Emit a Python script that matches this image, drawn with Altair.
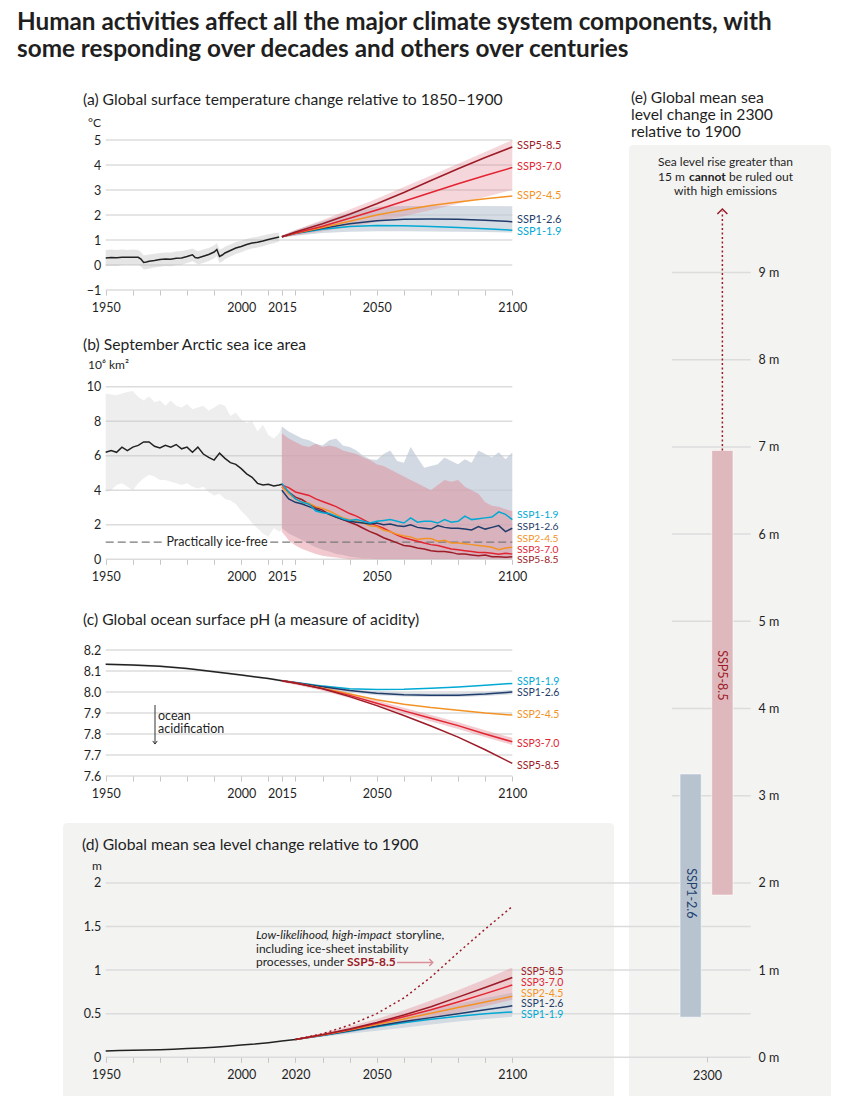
import altair as alt
import pandas as pd

W, H = 850, 1096
FONT = "Lato"
INK = "#1f1f1f"
GRID = "#dcdcdc"
BOX = "#f3f3f2"

SCEN = ["SSP1-1.9", "SSP1-2.6", "SSP2-4.5", "SSP3-7.0", "SSP5-8.5"]
SCEN_COL = ["#00a9d4", "#1f3c6a", "#f39325", "#e32431", "#9c1b27"]
COL = dict(zip(SCEN, SCEN_COL))

# ---------------- (a) global surface temperature ----------------
a_hist_year = [1950, 1952, 1954, 1956, 1958, 1960, 1962, 1963, 1964, 1965, 1966, 1968, 1970,
               1972, 1974, 1976, 1978, 1980, 1982, 1983, 1984, 1986, 1988, 1990, 1991, 1992,
               1993, 1994, 1996, 1998, 2000, 2002, 2004, 2006, 2008, 2010, 2012, 2014]
a_hist = [0.28, 0.30, 0.29, 0.31, 0.31, 0.31, 0.31, 0.24, 0.10, 0.12, 0.15, 0.18, 0.22,
          0.24, 0.23, 0.27, 0.28, 0.34, 0.41, 0.30, 0.28, 0.35, 0.42, 0.52, 0.62, 0.34,
          0.40, 0.48, 0.58, 0.68, 0.74, 0.82, 0.88, 0.91, 0.96, 1.02, 1.07, 1.12]
a_hist_hi = [0.60, 0.62, 0.60, 0.62, 0.60, 0.62, 0.60, 0.52, 0.38, 0.40, 0.42, 0.45, 0.48,
             0.50, 0.50, 0.54, 0.56, 0.60, 0.66, 0.60, 0.55, 0.62, 0.68, 0.78, 0.88, 0.62,
             0.66, 0.73, 0.82, 0.92, 0.97, 1.04, 1.10, 1.13, 1.18, 1.23, 1.27, 1.30]
a_hist_lo = [-0.05, -0.03, -0.04, 0.00, 0.01, 0.00, 0.01, -0.06, -0.18, -0.17, -0.14, -0.10, -0.07,
             -0.04, -0.05, 0.00, 0.01, 0.08, 0.15, 0.10, 0.02, 0.08, 0.16, 0.26, 0.36, 0.08,
             0.14, 0.23, 0.34, 0.44, 0.51, 0.60, 0.66, 0.70, 0.75, 0.82, 0.87, 0.94]
a_fut_year = [2015, 2020, 2030, 2040, 2050, 2060, 2070, 2080, 2090, 2100]
a_fut = {
    "SSP1-1.9": [1.13, 1.26, 1.43, 1.54, 1.58, 1.57, 1.54, 1.50, 1.45, 1.39],
    "SSP1-2.6": [1.13, 1.27, 1.47, 1.65, 1.77, 1.83, 1.84, 1.83, 1.79, 1.73],
    "SSP2-4.5": [1.13, 1.27, 1.50, 1.75, 2.00, 2.20, 2.38, 2.52, 2.65, 2.76],
    "SSP3-7.0": [1.13, 1.28, 1.55, 1.87, 2.20, 2.55, 2.90, 3.25, 3.58, 3.90],
    "SSP5-8.5": [1.13, 1.32, 1.65, 2.03, 2.45, 2.90, 3.38, 3.85, 4.30, 4.72],
}
a_b126_lo = [1.10, 1.17, 1.28, 1.33, 1.35, 1.35, 1.34, 1.33, 1.32, 1.30]
a_b126_hi = [1.18, 1.40, 1.75, 2.10, 2.33, 2.36, 2.36, 2.36, 2.36, 2.35]
a_b370_lo = [1.10, 1.18, 1.35, 1.52, 1.72, 1.95, 2.20, 2.45, 2.72, 3.00]
a_b370_hi = [1.18, 1.40, 1.80, 2.22, 2.65, 3.12, 3.58, 4.05, 4.52, 5.00]

# ---------------- (b) September Arctic sea ice ----------------
b_hist_year = list(range(1950, 2015, 2))
b_hist = [6.2, 6.3, 6.2, 6.5, 6.3, 6.5, 6.6, 6.8, 6.8, 6.55, 6.45, 6.6, 6.5, 6.65, 6.4, 6.5,
          6.2, 6.5, 6.1, 5.9, 5.75, 6.15, 5.85, 5.6, 5.5, 5.25, 4.95, 4.75, 4.4, 4.3, 4.35, 4.25, 4.3]
b_hist_hi = [9.6, 9.55, 9.5, 9.6, 9.7, 9.75, 9.4, 9.2, 9.45, 9.1, 9.2, 8.9, 9.2, 8.9, 8.8, 9.0,
             8.7, 8.8, 8.9, 8.6, 8.8, 9.0, 8.9, 8.3, 8.5, 8.1, 7.9, 8.0, 7.4, 7.8, 7.2, 7.0, 7.3]
b_hist_lo = [3.9, 4.0, 4.3, 4.4, 4.2, 4.0, 4.4, 4.7, 4.9, 4.8, 4.6, 4.6, 4.5, 4.4, 4.3, 4.4,
             4.2, 4.1, 4.2, 3.9, 3.7, 3.8, 3.5, 3.4, 3.2, 2.8, 2.5, 2.1, 1.8, 1.5, 1.3, 1.8, 1.6]
b_fut_year = [2015 + 2.5 * i for i in range(35)]
b_fut = {
    "SSP1-1.9": [4.4, 3.9, 3.5, 3.3, 3.2, 2.8, 2.7, 2.65, 2.5, 2.35, 2.25, 2.3, 2.2, 2.1, 2.2,
                 2.25, 2.3, 2.2, 2.1, 2.4, 2.15, 2.2, 2.2, 2.1, 2.3, 2.15, 2.2, 2.5, 2.3, 2.35,
                 2.4, 2.45, 2.75, 2.6, 2.3],
    "SSP1-2.6": [4.0, 3.5, 3.3, 3.2, 3.05, 2.9, 2.75, 2.6, 2.45, 2.3, 2.2, 2.15, 2.1, 2.05, 2.1,
                 2.0, 2.05, 1.95, 1.9, 2.0, 1.85, 1.8, 1.75, 1.95, 1.85, 1.8, 1.8, 1.75, 1.7, 1.9,
                 1.75, 1.85, 1.95, 1.6, 1.8],
    "SSP2-4.5": [4.2, 3.8, 3.5, 3.3, 3.25, 3.05, 2.95, 2.8, 2.6, 2.4, 2.3, 2.2, 2.1, 1.95, 1.9,
                 1.7, 1.6, 1.45, 1.35, 1.3, 1.15, 1.2, 1.2, 1.05, 1.1, 0.95, 0.95, 0.9, 0.85, 0.8,
                 0.75, 0.7, 0.55, 0.65, 0.7],
    "SSP3-7.0": [4.3, 4.15, 3.9, 3.8, 3.7, 3.5, 3.35, 3.2, 3.05, 2.85, 2.65, 2.5, 2.3, 2.1, 1.95,
                 1.8, 1.6, 1.4, 1.25, 1.15, 1.05, 0.95, 0.85, 0.8, 0.7, 0.6, 0.55, 0.5, 0.45, 0.4,
                 0.4, 0.35, 0.3, 0.35, 0.3],
    "SSP5-8.5": [4.2, 3.9, 3.6, 3.45, 3.2, 3.0, 2.85, 2.6, 2.45, 2.3, 2.15, 2.0, 1.8, 1.6, 1.45,
                 1.25, 1.1, 0.95, 0.8, 0.75, 0.65, 0.6, 0.5, 0.45, 0.45, 0.4, 0.3, 0.3, 0.25, 0.2,
                 0.25, 0.15, 0.15, 0.12, 0.15],
}
b_b126_hi = [7.7, 7.4, 7.2, 7.0, 6.9, 6.7, 6.6, 6.9, 7.0, 6.6, 6.5, 6.3, 6.0, 5.8, 5.75,
             6.1, 6.3, 5.7, 5.6, 6.5, 5.9, 5.3, 5.4, 5.5, 5.9, 5.7, 5.5, 5.8, 5.6, 6.3,
             6.1, 5.9, 6.2, 5.8, 6.2]
b_b126_lo = [1.8, 1.5, 1.3, 1.1, 0.9, 0.7, 0.55, 0.45, 0.3, 0.25, 0.15, 0.1, 0.05, 0.05, 0.0,
             0.0, 0.0, 0.0, 0.0, 0.0, 0.0, 0.0, 0.0, 0.0, 0.0, 0.0, 0.0, 0.0, 0.0, 0.0,
             0.0, 0.0, 0.0, 0.0, 0.0]
b_b370_hi = [7.3, 7.0, 6.8, 6.6, 6.5, 6.7, 6.5, 6.6, 6.5, 6.3, 6.2, 6.1, 5.9, 5.75, 5.5,
             5.4, 5.2, 5.0, 4.8, 4.6, 4.4, 4.2, 4.0, 4.3, 4.6, 4.5, 4.6, 4.2, 4.0, 3.8,
             3.3, 3.1, 3.05, 2.9, 2.8]
b_b370_lo = [1.6, 1.1, 0.8, 0.6, 0.45, 0.3, 0.2, 0.15, 0.1, 0.05, 0.0, 0.0, 0.0, 0.0, 0.0,
             0.0, 0.0, 0.0, 0.0, 0.0, 0.0, 0.0, 0.0, 0.0, 0.0, 0.0, 0.0, 0.0, 0.0, 0.0,
             0.0, 0.0, 0.0, 0.0, 0.0]
b_icefree = 1.0

# ---------------- (c) ocean surface pH ----------------
c_hist_year = [1950, 1960, 1970, 1980, 1990, 2000, 2010, 2015]
c_hist = [8.132, 8.128, 8.123, 8.112, 8.097, 8.081, 8.064, 8.054]
c_hist_lo = [8.127, 8.123, 8.118, 8.107, 8.092, 8.076, 8.059, 8.049]
c_hist_hi = [8.137, 8.133, 8.128, 8.117, 8.102, 8.086, 8.069, 8.059]
c_fut_year = [2015, 2020, 2030, 2040, 2050, 2060, 2070, 2080, 2090, 2100]
c_fut = {
    "SSP1-1.9": [8.054, 8.045, 8.028, 8.015, 8.012, 8.013, 8.018, 8.024, 8.032, 8.041],
    "SSP1-2.6": [8.054, 8.044, 8.025, 8.007, 7.994, 7.987, 7.985, 7.985, 7.991, 8.000],
    "SSP2-4.5": [8.054, 8.043, 8.018, 7.990, 7.963, 7.942, 7.926, 7.913, 7.900, 7.890],
    "SSP3-7.0": [8.054, 8.043, 8.016, 7.984, 7.946, 7.910, 7.875, 7.840, 7.800, 7.763],
    "SSP5-8.5": [8.054, 8.043, 8.015, 7.978, 7.935, 7.888, 7.838, 7.785, 7.725, 7.660],
}
c_b126_lo = [8.048, 8.036, 8.016, 7.998, 7.985, 7.978, 7.976, 7.976, 7.981, 7.989]
c_b126_hi = [8.058, 8.050, 8.033, 8.016, 8.003, 7.996, 7.994, 7.995, 8.000, 8.010]
c_b370_lo = [8.048, 8.035, 8.006, 7.972, 7.933, 7.896, 7.860, 7.824, 7.785, 7.748]
c_b370_hi = [8.058, 8.050, 8.026, 7.996, 7.960, 7.925, 7.890, 7.856, 7.818, 7.782]

# ---------------- (d) global mean sea level ----------------
d_hist_year = [1950, 1955, 1960, 1965, 1970, 1975, 1980, 1985, 1990, 1995, 2000, 2005, 2010, 2015, 2020]
d_hist = [0.072, 0.077, 0.080, 0.084, 0.088, 0.093, 0.100, 0.107, 0.116, 0.127, 0.140, 0.152,
          0.168, 0.186, 0.205]
d_fut_year = [2020, 2030, 2040, 2050, 2060, 2070, 2080, 2090, 2100]
d_fut = {
    "SSP1-1.9": [0.205, 0.250, 0.300, 0.350, 0.395, 0.435, 0.470, 0.500, 0.520],
    "SSP1-2.6": [0.205, 0.253, 0.305, 0.360, 0.410, 0.455, 0.500, 0.545, 0.590],
    "SSP2-4.5": [0.205, 0.255, 0.312, 0.375, 0.440, 0.505, 0.570, 0.635, 0.700],
    "SSP3-7.0": [0.205, 0.258, 0.320, 0.390, 0.465, 0.545, 0.635, 0.730, 0.830],
    "SSP5-8.5": [0.205, 0.260, 0.325, 0.400, 0.485, 0.580, 0.690, 0.800, 0.915],
}
d_storyline = [0.205, 0.270, 0.370, 0.500, 0.680, 0.920, 1.200, 1.470, 1.730]
d_b126_lo = [0.200, 0.235, 0.270, 0.305, 0.340, 0.375, 0.410, 0.440, 0.465]
d_b126_hi = [0.210, 0.270, 0.335, 0.405, 0.475, 0.545, 0.615, 0.680, 0.740]
d_b370_lo = [0.200, 0.240, 0.285, 0.335, 0.390, 0.450, 0.515, 0.585, 0.660]
d_b370_hi = [0.210, 0.280, 0.355, 0.440, 0.540, 0.650, 0.770, 0.895, 1.030]

# ---------------- (e) sea level in 2300 ----------------
e_scen = ["SSP1-2.6", "SSP5-8.5"]
e_lo = [0.46, 1.86]
e_hi = [3.25, 6.96]
e_beyond = 9.70   # dotted arrow: greater than 15 m cannot be ruled out

# ---------------- label anchors (data units) ----------------
a_label_at = [1.31, 1.80, 2.76, 3.91, 4.76]
b_label_at = [2.55, 1.85, 1.17, 0.55, -0.05]
c_label_at = [8.046, 7.996, 7.890, 7.752, 7.648]
d_label_at = [0.490, 0.607, 0.726, 0.855, 0.980]

# ---------------- layout (pixels) ----------------
XL, XR = 105.7, 512.3
PANEL = {
    "a": ([-1, 5], [290, 140]),
    "b": ([0, 10], [559.3, 386.7]),
    "c": ([7.6, 8.2], [776, 650]),
    "d": ([0, 2], [1057.3, 882.9]),
    "e": ([0, 9], [1057.3, 272.5]),
}
E_BAND = [680, 733]


def xq(field="year", axis=None):
    return alt.X(f"{field}:Q", axis=axis,
                 scale=alt.Scale(domain=[1950, 2100], range=[XL, XR], zero=False, nice=False))


def yq(p, field, axis=None):
    dom, rng = PANEL[p]
    return alt.Y(f"{field}:Q", axis=axis,
                 scale=alt.Scale(domain=dom, range=rng, zero=False, nice=False))


def xe(axis=None):
    return alt.X("scen:N", axis=axis,
                 scale=alt.Scale(type="band", domain=e_scen, range=E_BAND,
                                 paddingInner=0.33, paddingOuter=0))


def line(p, years, vals, color, width=1.5, dash=None):
    df = pd.DataFrame({"year": years, "v": vals})
    kw = dict(color=color, strokeWidth=width, strokeCap="butt")
    if dash:
        kw["strokeDash"] = dash
    return alt.Chart(df).mark_line(**kw).encode(x=xq(), y=yq(p, "v"))


def band(p, years, lo, hi, color, opacity):
    df = pd.DataFrame({"year": years, "lo": lo, "hi": hi})
    return alt.Chart(df).mark_area(color=color, opacity=opacity).encode(
        x=xq(), y=yq(p, "lo"), y2=alt.Y2("hi"))


def grid(p, vals, x0=XL, x1=XR, axis=None):
    df = pd.DataFrame({"v": vals})
    return alt.Chart(df).mark_rule(color=GRID, strokeWidth=1.5).encode(
        y=yq(p, "v", axis=axis), x=alt.value(x0), x2=alt.value(x1))


def yaxis_left(vals, fmt=None):
    kw = dict(orient="left", offset=-XL, values=vals, grid=False, domain=False, ticks=False,
              labelPadding=5, labelFontSize=12.5, labelColor=INK, labelFont=FONT, title=None,
              labelOverlap=False, zindex=1)
    if fmt:
        kw["format"] = fmt
    return alt.Axis(**kw)


def x_axis_layer(base_px, tick_years, label_years):
    expr = "indexof(" + str(label_years) + ", datum.value) >= 0 ? datum.label : ''"
    ax = alt.Axis(orient="bottom", offset=base_px - H, values=tick_years, format="d",
                  labelExpr=expr, grid=False, domain=False, ticks=True, tickSize=5,
                  tickColor="#c6c6c6", tickWidth=1, labelPadding=6, labelFontSize=12.5,
                  labelColor=INK, labelFont=FONT, labelFlush=False, labelOverlap=False,
                  title=None, zindex=1)
    df = pd.DataFrame({"year": tick_years})
    return alt.Chart(df).mark_point(opacity=0).encode(x=xq(axis=ax), y=alt.value(0))


def text_px(s, x, y, size=12.5, color=INK, weight="normal", style="normal",
            align="left", baseline="middle"):
    df = pd.DataFrame({"t": [s]})
    return alt.Chart(df).mark_text(font=FONT, fontSize=size, color=color, fontWeight=weight,
                                   fontStyle=style, align=align, baseline=baseline).encode(
        x=alt.value(x), y=alt.value(y), text="t:N")


def ssp_labels(p, label_at, x_px=517, size=11):
    df = pd.DataFrame({"s": SCEN, "v": label_at})
    return alt.Chart(df).mark_text(font=FONT, fontSize=size, align="left", baseline="middle").encode(
        x=alt.value(x_px), y=yq(p, "v"), text="s:N",
        color=alt.Color("s:N", scale=alt.Scale(domain=SCEN, range=SCEN_COL), legend=None))


def rect_px(x0, x1, y0, y1, color):
    df = pd.DataFrame({"k": [0]})
    return alt.Chart(df).mark_rect(color=color, cornerRadius=4).encode(
        x=alt.value(x0), x2=alt.value(x1), y=alt.value(y0), y2=alt.value(y1))


TICKS_10 = list(range(1950, 2101, 10))
TICKS_ABC = sorted(TICKS_10 + [2015])
GRAYBLUE, PINK = "#bfc9d6", "#e07f8c"

layers = []

# background boxes for (d) and (e)
layers.append(rect_px(63, 614, 823, 1100, BOX))
layers.append(rect_px(629, 831, 145, 1100, BOX))

# main title
layers.append(text_px("Human activities affect all the major climate system components, with",
                      17, 30, size=24.3, weight="bold", baseline="alphabetic"))
layers.append(text_px("some responding over decades and others over centuries",
                      17, 57, size=24.3, weight="bold", baseline="alphabetic"))

# ---------- panel (a) ----------
layers.append(grid("a", [-1, 0, 1, 2, 3, 4, 5], axis=yaxis_left([-1, 0, 1, 2, 3, 4, 5])))
layers.append(band("a", a_hist_year, a_hist_lo, a_hist_hi, "#b5b5b5", 0.35))
layers.append(band("a", a_fut_year, a_b126_lo, a_b126_hi, GRAYBLUE, 0.65))
layers.append(band("a", a_fut_year, a_b370_lo, a_b370_hi, PINK, 0.32))
layers.append(line("a", a_hist_year, a_hist, "#222222"))
for s in SCEN:
    layers.append(line("a", a_fut_year, a_fut[s], COL[s]))
layers.append(ssp_labels("a", a_label_at))
layers.append(x_axis_layer(290, TICKS_ABC, [1950, 2000, 2015, 2050, 2100]))
layers.append(text_px("(a) Global surface temperature change relative to 1850–1900", 83, 100, size=15.7))
layers.append(text_px("°C", 88, 123, size=12))

# ---------- panel (b) ----------
layers.append(grid("b", [0, 2, 4, 6, 8, 10], axis=yaxis_left([0, 2, 4, 6, 8, 10])))
layers.append(band("b", b_hist_year + [2015], b_hist_lo + [1.7], b_hist_hi + [7.7], "#c8c8c8", 0.3))
layers.append(band("b", b_fut_year, b_b126_lo, b_b126_hi, GRAYBLUE, 0.7))
layers.append(band("b", b_fut_year, b_b370_lo, b_b370_hi, PINK, 0.42))
ice_df = pd.DataFrame({"seg": [0, 0, 1, 1], "year": [1950, 1971.3, 2010.7, 2100],
                       "v": [b_icefree] * 4})
layers.append(alt.Chart(ice_df).mark_line(color="#7a7a7a", strokeWidth=1.3, strokeDash=[8, 4]).encode(
    x=xq(), y=yq("b", "v"), detail="seg:N"))
layers.append(alt.Chart(pd.DataFrame({"t": ["Practically ice-free"], "v": [b_icefree]})).mark_text(
    font=FONT, fontSize=12.5, color=INK, align="center", baseline="middle").encode(
    x=alt.value(217), y=yq("b", "v"), text="t:N"))
layers.append(line("b", b_hist_year + [2015], b_hist + [4.35], "#222222"))
for s in ["SSP5-8.5", "SSP3-7.0", "SSP2-4.5", "SSP1-2.6", "SSP1-1.9"]:
    layers.append(line("b", b_fut_year, b_fut[s], COL[s]))
layers.append(ssp_labels("b", b_label_at, size=10.3))
layers.append(x_axis_layer(559.3, TICKS_ABC, [1950, 2000, 2015, 2050, 2100]))
layers.append(text_px("(b) September Arctic sea ice area", 83, 345, size=15.7))
layers.append(text_px("10⁶ km²", 88, 365, size=12))

# ---------- panel (c) ----------
c_grid = [7.6, 7.7, 7.8, 7.9, 8.0, 8.1, 8.2]
layers.append(grid("c", c_grid, axis=yaxis_left(c_grid, fmt=".1f")))
layers.append(band("c", c_hist_year, c_hist_lo, c_hist_hi, "#aaaaaa", 0.35))
layers.append(band("c", c_fut_year, c_b126_lo, c_b126_hi, GRAYBLUE, 0.65))
layers.append(band("c", c_fut_year, c_b370_lo, c_b370_hi, PINK, 0.4))
layers.append(line("c", c_hist_year, c_hist, "#222222"))
for s in SCEN:
    layers.append(line("c", c_fut_year, c_fut[s], COL[s]))
layers.append(ssp_labels("c", c_label_at, size=10.5))
layers.append(x_axis_layer(776, TICKS_ABC, [1950, 2000, 2015, 2050, 2100]))
layers.append(text_px("(c) Global ocean surface pH (a measure of acidity)", 83, 620, size=15.7))
layers.append(alt.Chart(pd.DataFrame({"k": [0]})).mark_rule(color="#333333", strokeWidth=1).encode(
    x=alt.value(155), y=alt.value(705), y2=alt.value(744)))
layers.append(alt.Chart(pd.DataFrame({"k": [0]})).mark_point(
    shape="M -1 -0.7 L 0 0.7 L 1 -0.7", filled=False, color="#333333", size=20, strokeWidth=1, opacity=1).encode(
    x=alt.value(155), y=alt.value(742.5)))
layers.append(text_px("ocean", 158, 716, size=12.5))
layers.append(text_px("acidification", 158, 729, size=12.5))

# ---------- panel (d) ----------
d_grid = [0, 0.5, 1, 1.5, 2]
layers.append(grid("d", d_grid, x0=XL, x1=750.7, axis=yaxis_left(d_grid, fmt="~g")))
layers.append(grid("e", [3, 4, 5, 6, 7, 8, 9], x0=672, x1=750.7,
                   axis=alt.Axis(orient="right", offset=751 - W, values=list(range(10)),
                                 labelExpr="datum.value + ' m'", grid=False, domain=False,
                                 ticks=False, labelPadding=7, labelFontSize=12.5, labelColor=INK,
                                 labelFont=FONT, title=None, labelOverlap=False, zindex=1)))
layers.append(band("d", d_fut_year, d_b126_lo, d_b126_hi, GRAYBLUE, 0.6))
layers.append(band("d", d_fut_year, d_b370_lo, d_b370_hi, PINK, 0.35))
layers.append(line("d", d_hist_year, d_hist, "#222222"))
for s in SCEN:
    layers.append(line("d", d_fut_year, d_fut[s], COL[s]))
layers.append(line("d", d_fut_year, d_storyline, COL["SSP5-8.5"], width=1.5, dash=[2, 3]))
layers.append(ssp_labels("d", d_label_at, x_px=521, size=10.5))
layers.append(x_axis_layer(1057.3, TICKS_10, [1950, 2000, 2020, 2050, 2100]))
layers.append(text_px("(d) Global mean sea level change relative to 1900", 82, 845, size=15.7))
layers.append(text_px("m", 92, 866, size=12))
# storyline annotation
layers.append(text_px("Low-likelihood", 256, 935, size=12, style="italic"))
layers.append(text_px(",", 326, 935, size=12))
layers.append(text_px("high-impact", 332, 935, size=12, style="italic"))
layers.append(text_px("storyline,", 396, 935, size=12))
layers.append(text_px("including ice-sheet instability", 256, 948.5, size=12))
layers.append(text_px("processes, under", 256, 962, size=12))
layers.append(text_px("SSP5-8.5", 347, 962, size=12, color=COL["SSP5-8.5"], weight="bold"))
layers.append(alt.Chart(pd.DataFrame({"k": [0]})).mark_rule(color="#d98e98", strokeWidth=1.5).encode(
    x=alt.value(397), x2=alt.value(432), y=alt.value(962.5)))
layers.append(alt.Chart(pd.DataFrame({"k": [0]})).mark_point(
    shape="M -0.5 -1 L 0.5 0 L -0.5 1", filled=False, color="#d98e98", size=49, strokeWidth=1.5, opacity=1).encode(
    x=alt.value(431), y=alt.value(962.5)))

# ---------- panel (e) ----------
e_df = pd.DataFrame({"scen": e_scen, "lo": e_lo, "hi": e_hi})
layers.append(alt.Chart(e_df).mark_bar(stroke="#ffffff", strokeOpacity=0.6, strokeWidth=1).encode(
    x=xe(), y=yq("e", "lo"), y2=alt.Y2("hi"),
    color=alt.Color("scen:N", scale=alt.Scale(domain=e_scen, range=["#b8c3d0", "#dfb8bd"]), legend=None)))
arrow_df = pd.DataFrame({"scen": ["SSP5-8.5"], "lo": [e_hi[1]], "hi": [e_beyond]})
layers.append(alt.Chart(arrow_df).mark_rule(color=COL["SSP5-8.5"], strokeWidth=1.5, strokeDash=[2, 2.5]).encode(
    x=xe(), y=yq("e", "lo"), y2=alt.Y2("hi")))
layers.append(alt.Chart(arrow_df).mark_point(
    shape="M -1 0.5 L 0 -0.5 L 1 0.5", filled=False, color=COL["SSP5-8.5"], size=100, strokeWidth=1.5,
    opacity=1).encode(x=xe(), y=yq("e", "hi")))
e_lab = pd.DataFrame({"scen": e_scen, "v": [1.88, 4.38]})
layers.append(alt.Chart(e_lab).mark_text(font=FONT, fontSize=12.5, angle=90, align="center",
                                         baseline="middle").encode(
    x=xe(), y=yq("e", "v"), text="scen:N",
    color=alt.Color("scen:N", scale=alt.Scale(domain=e_scen, range=["#23416f", "#9c1b27"]), legend=None)))
layers.append(alt.Chart(pd.DataFrame({"k": [0]})).mark_rule(color="#c6c6c6", strokeWidth=1).encode(
    x=alt.value(707.5), y=alt.value(1057.3), y2=alt.value(1062.3)))
layers.append(text_px("2300", 707.5, 1075.5, align="center"))
layers.append(text_px("(e) Global mean sea", 631, 98, size=15.7))
layers.append(text_px("level change in 2300", 631, 115, size=15.7))
layers.append(text_px("relative to 1900", 631, 132, size=15.7))
layers.append(text_px("Sea level rise greater than", 725.5, 162, size=12, align="center"))
layers.append(text_px("15 m", 658, 176.5, size=12))
layers.append(text_px("cannot", 689, 176.5, size=12, weight="bold"))
layers.append(text_px("be ruled out", 729, 176.5, size=12))
layers.append(text_px("with high emissions", 725.5, 190.5, size=12, align="center"))

chart = (
    alt.layer(*layers)
    .resolve_scale(x="independent", y="independent", color="independent")
    .properties(width=W, height=H, padding=0, background="white",
                autosize=alt.AutoSizeParams(type="none"))
    .configure_view(stroke=None)
)

chart.save("out.html", embed_options={"renderer": "svg", "actions": False})
